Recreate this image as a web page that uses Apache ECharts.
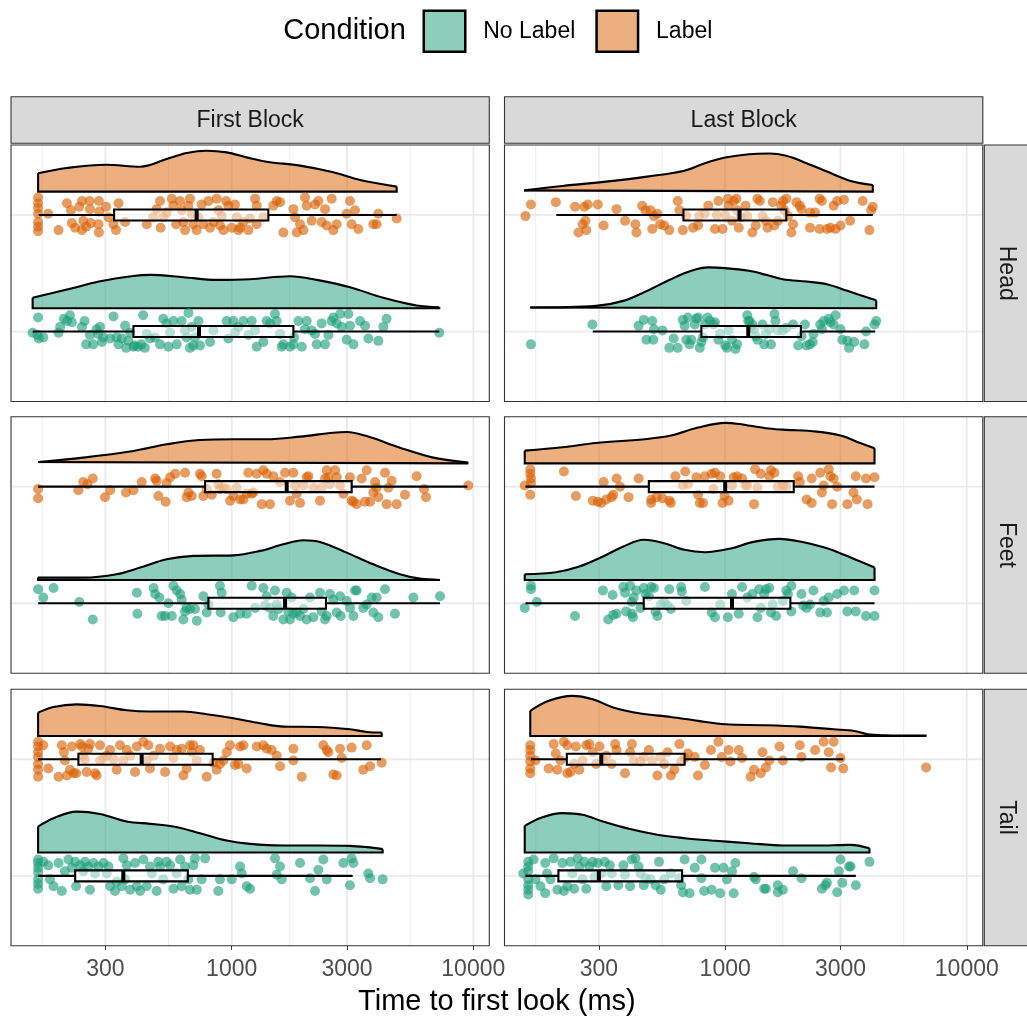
<!DOCTYPE html>
<html>
<head>
<meta charset="utf-8">
<script src="https://cdn.jsdelivr.net/npm/echarts@6/dist/echarts.min.js"></script>
<style>html,body{margin:0;padding:0;background:#fff}#chart{width:1027px;height:1023px}</style>
</head>
<body>
<div id="chart"></div>
<script>
// ---------------- DATA (times in ms; jitter / density heights in category units) ----------------
const blocks = ['First Block', 'Last Block'];
const regions = ['Head', 'Feet', 'Tail'];
const conditions = ['No Label', 'Label'];
const xTicks = [300, 1000, 3000, 10000];

// box stats: [lower whisker, Q1, median, Q3, upper whisker]
const fbHeadLabelBox = [159, 326, 716, 1418, 4818];
const fbHeadNoLabelBox = [150, 392, 732, 1800, 7232];
const lbHeadLabelBox = [200, 672, 1146, 1790, 4082];
const lbHeadNoLabelBox = [283, 797, 1246, 2057, 4176];
const fbFeetLabelBox = [158, 776, 1689, 3137, 9450];
const fbFeetNoLabelBox = [158, 801, 1663, 2457, 7281];
const lbFeetLabelBox = [149, 483, 1000, 1922, 4150];
const lbFeetNoLabelBox = [149, 460, 1067, 1861, 4150];
const fbTailLabelBox = [158, 232, 424, 834, 4148];
const fbTailNoLabelBox = [158, 225, 356, 658, 3166];
const lbTailLabelBox = [157, 221, 307, 679, 3082];
const lbTailNoLabelBox = [149, 204, 300, 663, 3472];

// density curves: [ms, scaled density height]
const fbHeadLabelDens = [[158,0.157],[208,0.203],[302,0.231],[418,0.214],[538,0.280],[651,0.331],[788,0.351],[953,0.337],[1154,0.294],[1396,0.257],[1918,0.223],[2634,0.166],[3398,0.100],[4818,0.043]];
const fbHeadNoLabelDens = [[150,0.089],[208,0.160],[285,0.231],[392,0.277],[459,0.286],[631,0.266],[867,0.243],[1191,0.249],[1743,0.274],[2247,0.243],[3088,0.180],[4242,0.089],[5829,0.023],[7232,0.009]];
const lbHeadLabelDens = [[147,0.011],[212,0.049],[344,0.092],[475,0.129],[678,0.180],[824,0.244],[1000,0.292],[1254,0.321],[1523,0.327],[1790,0.307],[2172,0.244],[2638,0.172],[3305,0.092],[4082,0.057]];
const lbHeadNoLabelDens = [[156,0.006],[292,0.02],[379,0.063],[475,0.149],[596,0.249],[724,0.321],[851,0.350],[1000,0.344],[1254,0.321],[1474,0.287],[1732,0.249],[2172,0.229],[2638,0.206],[3203,0.149],[3885,0.092],[4217,0.069]];
const fbFeetLabelDens = [[158,0.011],[243,0.049],[392,0.106],[538,0.163],[739,0.200],[1016,0.206],[1396,0.206],[1918,0.229],[2634,0.263],[2991,0.269],[3619,0.234],[4971,0.134],[6828,0.049],[9535,0.006]];
const fbFeetNoLabelDens = [[158,0.02],[243,0.02],[334,0.049],[418,0.106],[538,0.177],[694,0.206],[1016,0.211],[1310,0.249],[1636,0.306],[1980,0.34],[2320,0.326],[2991,0.234],[3857,0.134],[4971,0.049],[6017,0.011],[7281,0.0]];
const lbFeetLabelDens = [[148,0.109],[212,0.138],[292,0.175],[475,0.209],[596,0.238],[772,0.307],[1000,0.347],[1138,0.338],[1474,0.301],[1732,0.289],[2393,0.272],[3002,0.238],[3646,0.172],[4150,0.129]];
const lbFeetNoLabelDens = [[148,0.049],[199,0.066],[249,0.115],[312,0.201],[379,0.287],[460,0.344],[559,0.315],[679,0.258],[824,0.238],[1067,0.272],[1295,0.324],[1677,0.352],[2036,0.330],[2638,0.272],[3305,0.192],[4150,0.106]];
const fbTailLabelDens = [[158,0.2],[183,0.249],[228,0.271],[285,0.257],[368,0.22],[459,0.209],[631,0.209],[788,0.186],[1016,0.151],[1310,0.109],[1636,0.08],[2247,0.077],[3088,0.057],[3619,0.034],[4175,0.029]];
const fbTailNoLabelDens = [[158,0.223],[183,0.294],[228,0.351],[285,0.331],[368,0.266],[459,0.246],[574,0.223],[739,0.166],[954,0.103],[1191,0.074],[1636,0.06],[2247,0.06],[3088,0.057],[3619,0.046],[4215,0.029]];
const lbTailLabelDens = [[156,0.215],[186,0.301],[233,0.344],[283,0.315],[344,0.244],[446,0.192],[596,0.163],[772,0.129],[1000,0.10],[1474,0.092],[2036,0.080],[2812,0.057],[3418,0.043],[3885,0.014],[4566,0.006],[6806,0.003]];
const lbTailNoLabelDens = [[148,0.229],[174,0.301],[212,0.338],[257,0.324],[312,0.266],[404,0.201],[524,0.152],[679,0.123],[879,0.103],[1254,0.080],[1732,0.06],[2393,0.06],[3305,0.066],[3954,0.037]];

// jittered observations: [ms, vertical jitter]
const fbHeadLabelPts = [[158,0.15],[158,0.10],[158,0.06],[158,0.01],[158,-0.06],[158,-0.10],[158,-0.14],[174,0.01],[192,-0.13],[208,0.10],[216,0.04],[218,-0.07],[225,-0.11],[234,0.07],[240,0.12],[243,-0.05],[250,-0.10],[258,0.12],[259,0.05],[261,-0.07],[240,-0.13],[282,0.12],[283,0.03],[281,-0.08],[282,-0.15],[302,0.07],[309,-0.02],[324,-0.08],[332,-0.13],[340,0.10],[362,-0.06],[445,-0.08],[474,-0.02],[489,0.05],[505,0.12],[508,-0.11],[521,-0.02],[538,0.02],[565,0.14],[574,0.08],[589,-0.08],[611,0.12],[621,0.04],[631,-0.06],[641,-0.13],[662,0.08],[672,0.14],[683,0.01],[694,-0.08],[716,-0.13],[728,-0.02],[751,0.09],[763,-0.08],[801,0.12],[813,-0.11],[840,-0.06],[867,0.14],[881,0.04],[895,-0.09],[909,-0.01],[924,-0.13],[948,0.12],[969,0.08],[1000,-0.11],[1032,0.09],[1049,-0.02],[1066,-0.13],[1083,-0.11],[1118,-0.06],[1172,-0.13],[1191,-0.03],[1249,0.14],[1269,-0.08],[1269,0.08],[1352,-0.02],[1487,0.08],[1536,0.12],[1585,0.11],[1636,-0.15],[1800,0.05],[1829,-0.02],[1858,-0.15],[1918,-0.08],[1981,-0.13],[2011,0.15],[2043,0.08],[2143,-0.05],[2212,0.09],[2284,0.12],[2357,-0.06],[2434,0.05],[2473,-0.09],[2593,0.14],[2634,-0.13],[2720,-0.08],[2991,0.01],[3088,0.12],[3138,-0.08],[3238,0.04],[3343,-0.12],[3857,-0.08],[3981,-0.08],[4045,0.01],[4818,-0.03]];
const fbHeadNoLabelPts = [[150,-0.01],[158,0.12],[159,-0.06],[157,-0.03],[166,-0.05],[192,-0.01],[195,0.04],[202,0.11],[208,0.09],[214,0.14],[218,0.08],[240,0.04],[246,0.09],[250,-0.11],[259,-0.03],[267,-0.11],[276,0.02],[280,-0.02],[285,0.04],[290,-0.09],[294,-0.05],[314,-0.06],[324,0.13],[334,-0.05],[340,-0.11],[351,-0.06],[362,0.05],[366,-0.14],[373,-0.08],[380,-0.01],[392,-0.13],[397,-0.12],[410,-0.13],[423,-0.11],[430,0.14],[437,-0.14],[445,-0.02],[459,-0.06],[481,-0.05],[505,-0.11],[521,0.11],[538,0.07],[547,-0.13],[556,-0.01],[574,0.09],[592,-0.11],[621,0.09],[641,0.01],[651,-0.05],[662,0.16],[672,-0.14],[683,0.04],[694,-0.12],[705,-0.05],[728,0.09],[739,-0.12],[813,-0.09],[840,0.01],[953,0.09],[969,-0.06],[1016,0.09],[1032,-0.01],[1066,0.04],[1118,0.09],[1172,-0.03],[1210,0.09],[1249,0.01],[1269,-0.13],[1352,-0.09],[1396,0.09],[1441,0.07],[1510,0.15],[1536,0.09],[1585,-0.02],[1610,-0.13],[1636,-0.11],[1743,-0.13],[1800,-0.11],[1810,-0.05],[1888,0.09],[1950,-0.13],[2011,0.02],[2043,0.09],[2143,0.01],[2212,-0.02],[2247,-0.11],[2357,0.07],[2434,-0.11],[2513,-0.03],[2593,0.09],[2634,0.12],[2720,0.07],[2809,0.15],[2854,0.04],[2991,-0.07],[3040,0.15],[3088,0.05],[3189,-0.11],[3398,0.09],[3563,0.05],[3677,-0.06],[4045,-0.08],[4242,0.04],[4378,0.11],[7232,-0.01]];
const lbHeadLabelPts = [[149,-0.01],[157,0.09],[199,0.11],[239,0.07],[261,0.07],[270,0.09],[297,0.09],[257,-0.08],[264,-0.05],[247,-0.15],[266,-0.13],[314,-0.09],[355,0.05],[385,-0.05],[429,-0.15],[425,-0.08],[453,0.08],[468,0.04],[491,0.04],[507,-0.01],[524,0.01],[538,-0.08],[499,-0.12],[559,-0.09],[587,-0.13],[636,0.12],[646,0.04],[668,-0.13],[690,-0.01],[736,-0.11],[772,-0.09],[780,-0.01],[824,0.01],[851,0.08],[907,-0.12],[922,0],[937,0.12],[975,-0.12],[1000,0],[1026,0.14],[1033,0.08],[1067,-0.05],[1084,0.12],[1113,0.14],[1120,0.04],[1138,-0.11],[1157,-0.02],[1214,0.08],[1234,-0.01],[1295,-0.15],[1338,-0.09],[1359,0.14],[1391,0.12],[1427,-0.01],[1474,-0.05],[1497,-0.11],[1573,0.11],[1598,-0.09],[1651,-0.05],[1705,0.08],[1732,0.12],[1760,0.04],[1790,0.14],[1818,-0.01],[1879,-0.15],[1909,-0.08],[1972,0.11],[2036,0.08],[2069,0.05],[2244,0.02],[2244,-0.11],[2356,0.02],[2458,0.14],[2513,0.12],[2458,-0.12],[2638,-0.12],[2725,-0.11],[2812,0.08],[2861,-0.12],[2907,0.12],[3101,0.13],[3002,-0.09],[3287,-0.05],[3706,0.12],[3954,-0.13],[4018,0.04],[4082,0.07]];
const lbHeadNoLabelPts = [[157,-0.11],[282,0.06],[438,0.05],[460,0.10],[472,-0.07],[499,0.09],[504,-0.07],[507,0.02],[550,0.01],[587,-0.14],[612,-0.06],[636,-0.14],[668,0.10],[679,0.05],[690,-0.07],[701,0.12],[712,-0.11],[724,-0.07],[748,0.06],[760,0.11],[772,0.12],[785,-0.14],[797,-0.09],[810,-0.05],[824,0.06],[845,0.12],[865,0.09],[894,0.06],[907,0.08],[937,-0.07],[953,-0.02],[1000,-0.12],[1016,-0.14],[1033,0.01],[1067,-0.07],[1102,-0.15],[1120,-0.11],[1234,0.14],[1246,0.09],[1262,0.09],[1274,0.03],[1295,0.06],[1316,0.02],[1338,-0.04],[1359,-0.07],[1427,0.06],[1450,-0.11],[1474,-0.02],[1523,0.02],[1547,-0.11],[1599,0.15],[1614,0.09],[1651,0.01],[1732,0.01],[1790,0.03],[1909,0.06],[2004,-0.12],[2069,-0.04],[2138,0.06],[2172,-0.12],[2244,-0.11],[2303,-0.09],[2318,-0.02],[2474,0.06],[2513,0.02],[2555,0.09],[2682,0.11],[2725,0.08],[2812,0.06],[2861,0.14],[3002,0.02],[3052,-0.07],[3203,-0.08],[3255,-0.14],[3418,-0.09],[3766,-0.11],[3827,0],[4150,0.06],[4217,0.09]];
const fbFeetLabelPts = [[158,-0.02],[158,-0.10],[232,-0.03],[243,0.04],[253,0.02],[266,0.07],[299,-0.09],[314,-0.03],[365,-0.05],[392,-0.03],[424,0.04],[482,0.07],[489,0.05],[497,-0.08],[533,-0.13],[538,0.03],[556,0.08],[583,0.11],[641,0.12],[651,-0.09],[662,-0.05],[683,-0.08],[739,0.11],[751,0.09],[763,-0.08],[788,-0.02],[827,-0.07],[866,0.11],[880,0.02],[894,-0.02],[924,-0.01],[954,-0.02],[984,-0.12],[1016,-0.08],[1049,-0.01],[1083,-0.11],[1118,-0.11],[1154,-0.06],[1172,0.12],[1210,-0.06],[1229,-0.05],[1269,0.11],[1331,-0.15],[1352,0.14],[1396,0.11],[1441,-0.15],[1487,0.09],[1585,0.04],[1663,0.12],[1743,-0.12],[1800,0.12],[1829,0.01],[1858,-0.06],[1918,-0.14],[1981,0.01],[2043,0.08],[2076,0.09],[2177,-0.01],[2320,-0.12],[2357,-0.01],[2434,0.07],[2473,0.14],[2512,0.08],[2552,0.02],[2677,0.14],[2720,0.08],[2808,0.01],[2899,-0.06],[3088,0.08],[3137,-0.12],[3189,-0.13],[3290,-0.15],[3451,0.07],[3563,-0.13],[3619,0.14],[3737,-0.13],[3857,-0.05],[3920,0.04],[3981,-0.01],[4045,-0.09],[4311,0.12],[4378,-0.15],[4450,-0.01],[4593,0.05],[4818,-0.15],[5213,-0.07],[5826,0.09],[6250,-0.02],[6370,-0.09],[9535,0.01]];
const fbFeetNoLabelPts = [[158,0.12],[166,0.05],[183,0.13],[234,0.01],[266,-0.14],[405,0.09],[407,-0.09],[475,0.13],[482,0.08],[502,0.05],[513,-0.11],[530,-0.11],[547,0],[565,-0.11],[574,0.15],[592,0.11],[612,0.08],[621,0.03],[631,-0.14],[641,-0.07],[651,-0.04],[672,-0.05],[705,-0.05],[717,-0.15],[763,0.06],[788,-0.08],[801,-0.01],[894,0.15],[909,0.09],[900,-0.08],[1016,-0.12],[1083,-0.09],[1154,-0.09],[1210,0.15],[1249,-0.04],[1352,0.13],[1374,-0.02],[1396,0.06],[1441,-0.04],[1487,-0.11],[1511,0.11],[1536,-0.01],[1561,-0.05],[1636,-0.14],[1689,0.09],[1716,-0.07],[1743,-0.14],[1771,0.05],[1800,-0.09],[1858,-0.08],[1918,-0.11],[1981,-0.05],[2043,-0.14],[2110,0.05],[2177,-0.12],[2320,0.09],[2357,-0.07],[2434,-0.14],[2473,-0.11],[2552,0.08],[2634,0.03],[2720,-0.08],[2808,0.06],[2826,-0.11],[2991,0.02],[3088,-0.04],[3189,-0.11],[3238,0.11],[3290,0.11],[3505,-0.04],[3619,-0.01],[3796,0.05],[3857,-0.08],[3981,0.05],[4045,-0.12],[4311,0.12],[4740,-0.09],[5646,0.05],[7281,0.06]];
const lbFeetLabelPts = [[156,0.15],[156,0.11],[157,0.07],[157,0.03],[148,0.01],[156,-0.07],[215,0.13],[241,-0.08],[283,-0.12],[297,-0.13],[307,-0.14],[314,0.04],[322,-0.11],[339,-0.09],[344,-0.07],[355,0.07],[367,0],[398,-0.09],[438,0.07],[494,-0.11],[494,-0.14],[520,-0.09],[550,-0.10],[587,-0.12],[596,-0.14],[622,0.09],[668,0.01],[683,0.13],[701,0.02],[760,0.08],[772,-0.07],[785,-0.14],[810,-0.14],[824,0.09],[879,0.11],[893,-0.02],[907,0.12],[953,0.09],[975,-0.14],[994,-0.08],[1033,-0.12],[1067,0.01],[1084,0.08],[1120,0.09],[1175,0.07],[1214,0.01],[1234,0.01],[1316,-0.15],[1329,0.15],[1359,-0.01],[1404,0.11],[1523,0.09],[1547,0.14],[1599,0.12],[1651,0],[1732,0.01],[1790,0],[2004,0.09],[2036,0.04],[2172,-0.11],[2281,-0.14],[2281,0.07],[2474,0.12],[2513,-0.05],[2555,0.01],[2682,0.15],[2725,0.09],[2770,-0.15],[2812,0.07],[2907,0],[3203,-0.15],[3395,-0.05],[3472,0.09],[3506,-0.11],[3827,0.07],[3885,-0.15],[4150,0.08]];
const lbFeetNoLabelPts = [[148,-0.04],[157,0.15],[157,0.12],[166,0.01],[239,-0.11],[312,0.11],[328,-0.14],[342,0.07],[344,-0.10],[355,-0.09],[379,0.14],[385,0.09],[389,-0.07],[404,0.15],[411,0.01],[415,-0.12],[411,-0.09],[418,0.05],[429,0.11],[446,-0.04],[460,0.13],[468,0.08],[483,0.06],[494,0.14],[507,0.13],[515,-0.07],[524,-0.11],[541,-0.01],[559,0.01],[577,-0.02],[587,0.12],[596,-0.05],[657,0.14],[661,0.10],[690,0.02],[824,0.14],[879,-0.08],[907,-0.12],[953,-0.01],[1026,-0.12],[1067,0.08],[1138,-0.09],[1175,0.14],[1234,0.05],[1295,0.08],[1359,-0.12],[1382,0.12],[1404,-0.04],[1450,0.08],[1474,0.12],[1523,0.13],[1547,-0.08],[1573,-0.01],[1624,-0.11],[1732,0.02],[1790,0.11],[1818,0.08],[1879,0.15],[1879,-0.07],[2069,0.08],[2104,-0.02],[2172,-0.04],[2244,-0.01],[2318,0.11],[2474,-0.08],[2555,0.02],[2638,-0.08],[2682,0.05],[2907,0.08],[3101,0.11],[3203,-0.07],[3418,0.11],[3472,-0.07],[3827,-0.11],[4150,-0.11],[4150,0.11]];
const fbTailLabelPts = [[158,0.15],[158,0.11],[158,0.06],[158,0.02],[158,-0.04],[158,-0.09],[158,-0.15],[166,0.12],[174,-0.08],[192,-0.15],[198,0.12],[202,0.06],[204,-0.01],[208,-0.14],[214,-0.09],[218,0.11],[222,-0.12],[227,-0.12],[236,0.13],[240,0.11],[242,0.03],[247,0],[251,-0.11],[255,0.09],[259,0.13],[272,-0.12],[276,-0.14],[285,0.12],[285,-0.01],[295,0.01],[304,0.03],[314,0.08],[324,0],[334,-0.09],[345,0.12],[356,-0.01],[368,0.08],[380,0.03],[398,-0.11],[405,0.11],[431,0.15],[445,-0.01],[452,0.12],[459,-0.08],[475,0.03],[505,0.09],[530,-0.11],[556,0.11],[574,0.01],[592,0.08],[621,0.09],[631,-0.14],[651,-0.08],[672,0.12],[683,0.06],[694,0.12],[717,-0.01],[739,0.08],[788,-0.15],[840,-0.03],[866,-0.09],[894,-0.04],[924,-0.01],[954,0.06],[984,0.12],[1032,-0.05],[1066,-0.04],[1083,0.11],[1118,0.12],[1154,-0.08],[1269,0.11],[1352,0.12],[1396,0.09],[1464,0.08],[1536,0.03],[1585,-0.06],[1800,0.09],[1800,-0.01],[1949,-0.15],[2395,0.12],[2473,0.08],[2512,0.06],[2634,-0.13],[2720,-0.14],[2808,0.09],[2852,0.01],[3137,0.10],[3505,-0.09],[3619,0.12],[3737,-0.06],[4175,-0.03]];
const fbTailNoLabelPts = [[158,0.14],[158,0.11],[158,0.07],[158,0.03],[158,-0.03],[158,-0.07],[158,-0.11],[166,0.12],[174,0.09],[177,-0.03],[183,-0.09],[192,0.11],[198,-0.13],[204,0.04],[211,0.14],[218,0.07],[225,0.12],[227,-0.09],[236,0.09],[243,0.04],[247,0.12],[255,0.08],[259,-0.12],[268,0.11],[272,0.02],[281,0.08],[295,0.11],[304,0.02],[309,0.08],[314,-0.09],[329,-0.13],[334,-0.05],[351,-0.09],[356,0.15],[362,-0.03],[368,0.09],[380,-0.12],[398,0.11],[405,-0.09],[418,-0.13],[431,0.14],[445,-0.09],[459,0.08],[467,0.02],[489,-0.13],[497,0.12],[505,0.08],[521,-0.03],[538,0.12],[556,0.09],[574,-0.11],[592,0.02],[612,0.14],[621,-0.09],[641,0.08],[662,-0.03],[672,-0.12],[694,0.09],[705,0.15],[717,-0.12],[751,-0.03],[776,0.15],[880,-0.13],[894,-0.03],[1000,-0.03],[1083,0.08],[1100,0.02],[1154,-0.09],[1191,-0.11],[1511,0.15],[1536,0.01],[1585,0.08],[1610,-0.03],[1918,0.11],[2110,-0.02],[2212,-0.13],[2284,0.05],[2395,0.14],[2473,-0.03],[2899,0.11],[3088,-0.08],[3137,0.15],[3189,0.11],[3678,0.02],[3737,-0.02],[4215,-0.03]];
const lbTailLabelPts = [[156,0.12],[156,0.08],[156,0.03],[156,-0.02],[156,-0.08],[156,-0.12],[164,-0.01],[186,-0.08],[195,0.13],[199,0.05],[202,-0.09],[208,-0.01],[215,0.15],[222,0.12],[222,-0.12],[229,-0.11],[237,-0.04],[241,0.11],[249,-0.09],[257,-0.01],[266,0.12],[274,0.13],[283,0.06],[292,-0.04],[302,0.11],[312,-0.01],[322,0.03],[339,-0.04],[350,0.13],[355,0.08],[385,-0.12],[404,0.06],[411,0.13],[418,-0.01],[446,-0.02],[460,0.02],[483,0.08],[499,-0.01],[524,-0.14],[541,0.02],[559,-0.04],[577,0.06],[596,-0.14],[616,-0.09],[646,0.13],[657,-0.02],[679,0.01],[701,0.05],[748,0.02],[772,-0.14],[824,-0.05],[873,0.08],[937,0.15],[968,0.02],[1033,0.08],[1050,-0.02],[1138,0.08],[1175,0.01],[1274,-0.15],[1316,-0.09],[1404,-0.12],[1427,0.06],[1474,-0.07],[1523,-0.01],[1677,0.11],[1732,-0.01],[2036,0.12],[2069,0.02],[2356,0.08],[2555,0.15],[2682,0.06],[2743,-0.07],[2812,0.15],[3002,0.01],[3082,-0.08],[6784,-0.07]];
const lbTailNoLabelPts = [[146,0.02],[153,0.12],[153,0.08],[153,0.04],[153,-0.03],[153,-0.08],[153,-0.12],[153,-0.16],[161,0.14],[164,-0.03],[172,-0.09],[180,0.11],[180,-0.15],[183,0.02],[189,-0.03],[195,0.15],[202,-0.12],[212,0.11],[215,-0.13],[222,-0.09],[229,0.12],[233,0.02],[237,-0.11],[245,0.15],[249,0.08],[257,-0.03],[261,0.12],[266,-0.11],[274,0.08],[283,0.12],[288,-0.01],[297,0.11],[307,0.02],[317,0.12],[322,-0.09],[333,0.09],[339,0.02],[361,-0.08],[379,0.09],[385,0.01],[404,-0.09],[411,0.14],[425,0.15],[438,0.08],[446,0.02],[460,-0.08],[468,-0.02],[491,-0.03],[515,-0.08],[532,0.12],[541,-0.12],[559,-0.03],[596,0.02],[646,-0.02],[657,-0.08],[668,-0.14],[679,0.14],[712,-0.15],[748,0.07],[797,0.14],[797,-0.02],[818,-0.13],[879,-0.12],[907,0.07],[953,-0.15],[984,0.07],[1016,-0.03],[1067,0.04],[1084,-0.15],[1102,0.11],[1316,-0.01],[1338,-0.03],[1450,-0.11],[1474,-0.11],[1651,-0.08],[1651,-0.14],[1732,-0.12],[1909,0.04],[2069,-0.02],[2513,-0.11],[2596,-0.08],[2638,-0.06],[2907,-0.14],[2954,0.04],[3002,0.14],[3052,-0.06],[3255,0.08],[3305,0.08],[3472,-0.08],[3954,0.12]];

// ---------------- PANEL ASSEMBLY ----------------
const panels = [
  {col:0,row:0,'Label':{pts:fbHeadLabelPts,box:fbHeadLabelBox,dens:fbHeadLabelDens},'No Label':{pts:fbHeadNoLabelPts,box:fbHeadNoLabelBox,dens:fbHeadNoLabelDens}},
  {col:1,row:0,'Label':{pts:lbHeadLabelPts,box:lbHeadLabelBox,dens:lbHeadLabelDens},'No Label':{pts:lbHeadNoLabelPts,box:lbHeadNoLabelBox,dens:lbHeadNoLabelDens}},
  {col:0,row:1,'Label':{pts:fbFeetLabelPts,box:fbFeetLabelBox,dens:fbFeetLabelDens},'No Label':{pts:fbFeetNoLabelPts,box:fbFeetNoLabelBox,dens:fbFeetNoLabelDens}},
  {col:1,row:1,'Label':{pts:lbFeetLabelPts,box:lbFeetLabelBox,dens:lbFeetLabelDens},'No Label':{pts:lbFeetNoLabelPts,box:lbFeetNoLabelBox,dens:lbFeetNoLabelDens}},
  {col:0,row:2,'Label':{pts:fbTailLabelPts,box:fbTailLabelBox,dens:fbTailLabelDens},'No Label':{pts:fbTailNoLabelPts,box:fbTailNoLabelBox,dens:fbTailNoLabelDens}},
  {col:1,row:2,'Label':{pts:lbTailLabelPts,box:lbTailLabelBox,dens:lbTailLabelDens},'No Label':{pts:lbTailNoLabelPts,box:lbTailNoLabelBox,dens:lbTailNoLabelDens}}
];

const FONT = "'Liberation Sans', Arial, Helvetica, sans-serif";
const COL_LEFT = [11, 504.5], PANEL_W = 478.3;
const ROW_TOP = [145, 416.7, 689.3], PANEL_H = 256.5;
const LMIN = 2.0865, LMAX = 4.0662, YMIN = 0.4, YMAX = 2.6;
const COND_Y = {'No Label': 1, 'Label': 2};
const VIOLIN_OFFSET = 0.2, BOX_HALF = 0.047;
const FILL = {'No Label': 'rgba(27,158,119,0.5)', 'Label': 'rgba(217,95,2,0.5)'};
const PT = {'No Label': '#1B9E77', 'Label': '#D95F02'};
const LW = 2.1;

const majorLog = xTicks.map(Math.log10);
const minorLog = [];
minorLog.push(majorLog[0] - (majorLog[1] - majorLog[0]) / 2);
for (let k = 0; k < majorLog.length - 1; k++) minorLog.push((majorLog[k] + majorLog[k + 1]) / 2);

function renderGridLines(params, api) {
  const ch = [];
  const add = (a, b, w) => ch.push({type: 'line', shape: {x1: a[0], y1: a[1], x2: b[0], y2: b[1]}, style: {stroke: '#EBEBEB', lineWidth: w}});
  minorLog.filter(v => v > LMIN && v < LMAX).forEach(v => add(api.coord([v, YMIN]), api.coord([v, YMAX]), 0.9));
  majorLog.forEach(v => add(api.coord([v, YMIN]), api.coord([v, YMAX]), 1.8));
  [1, 2].forEach(v => add(api.coord([LMIN, v]), api.coord([LMAX, v]), 1.8));
  return {type: 'group', children: ch};
}

function renderBox(params, api) {
  const y = api.value(0);
  const lo = api.coord([api.value(1), y]);
  const q1 = api.coord([api.value(2), y + BOX_HALF]);
  const md = api.coord([api.value(3), y]);
  const q3 = api.coord([api.value(4), y - BOX_HALF]);
  const hi = api.coord([api.value(5), y]);
  const st = {stroke: '#000', lineWidth: LW};
  return {type: 'group', children: [
    {type: 'line', shape: {x1: lo[0], y1: lo[1], x2: q1[0], y2: lo[1]}, style: st},
    {type: 'line', shape: {x1: q3[0], y1: hi[1], x2: hi[0], y2: hi[1]}, style: st},
    {type: 'rect', shape: {x: q1[0], y: q1[1], width: q3[0] - q1[0], height: q3[1] - q1[1]}, style: {fill: 'rgba(255,255,255,0.5)', stroke: '#000', lineWidth: LW}},
    {type: 'line', shape: {x1: md[0], y1: q1[1], x2: md[0], y2: q3[1]}, style: {stroke: '#000', lineWidth: 4}}
  ]};
}

const grids = [], xAxes = [], yAxes = [], series = [];
panels.forEach((p, i) => {
  const bottom = p.row === 2;
  grids.push({left: COL_LEFT[p.col], top: ROW_TOP[p.row], width: PANEL_W, height: PANEL_H, show: false, containLabel: false, outerBoundsMode: 'none'});
  xAxes.push({
    gridIndex: i, type: 'value', min: LMIN, max: LMAX,
    splitLine: {show: false}, axisLine: {show: false},
    axisTick: {show: bottom, customValues: majorLog, length: 4, lineStyle: {color: '#333333', width: 1}},
    axisLabel: {show: bottom, customValues: majorLog, margin: 12, fontSize: 23, color: '#4D4D4D', fontFamily: FONT,
      formatter: v => String(Math.round(Math.pow(10, v)))}
  });
  yAxes.push({gridIndex: i, type: 'value', min: YMIN, max: YMAX, show: false});
  series.push({type: 'custom', xAxisIndex: i, yAxisIndex: i, silent: true, z: 1, data: [[3, 1]], renderItem: renderGridLines});
  conditions.forEach(cond => {
    const g = p[cond], y0 = COND_Y[cond], base = y0 + VIOLIN_OFFSET;
    const curve = g.dens.map(d => [Math.log10(d[0]), base + d[1]]);
    series.push({
      name: cond, type: 'line', xAxisIndex: i, yAxisIndex: i, data: curve, smooth: 0.35,
      symbol: 'none', silent: true, z: 2, color: FILL[cond],
      lineStyle: {color: '#000', width: LW},
      areaStyle: {origin: base, color: FILL[cond], opacity: 1}
    });
    const first = curve[0], last = curve[curve.length - 1];
    series.push({
      type: 'line', xAxisIndex: i, yAxisIndex: i, symbol: 'none', silent: true, z: 2,
      data: [first, [first[0], base], [last[0], base], last],
      lineStyle: {color: '#000', width: LW, join: 'miter'}
    });
    series.push({
      type: 'scatter', xAxisIndex: i, yAxisIndex: i, silent: true, z: 3, symbolSize: 10,
      itemStyle: {color: PT[cond], opacity: 0.62},
      data: g.pts.map(d => [Math.log10(d[0]), y0 + d[1]])
    });
    series.push({
      type: 'custom', xAxisIndex: i, yAxisIndex: i, silent: true, z: 4,
      encode: {x: 1, y: 0},
      data: [[y0].concat(g.box.map(Math.log10))], renderItem: renderBox
    });
  });
});

const graphics = [];
blocks.forEach((b, c) => {
  graphics.push({type: 'rect', silent: true, z: 5, shape: {x: COL_LEFT[c], y: 96.7, width: PANEL_W, height: 46.6},
    style: {fill: '#D9D9D9', stroke: '#333333', lineWidth: 1.1}});
  graphics.push({type: 'text', silent: true, z: 6, x: COL_LEFT[c] + PANEL_W / 2, y: 120.5,
    style: {text: b, fontSize: 23, fontFamily: FONT, fill: '#1A1A1A', textAlign: 'center', textVerticalAlign: 'middle', align: 'center', verticalAlign: 'middle'}});
});
regions.forEach((r, k) => {
  graphics.push({type: 'rect', silent: true, z: 5, shape: {x: 984.3, y: ROW_TOP[k], width: 50, height: PANEL_H},
    style: {fill: '#D9D9D9', stroke: '#333333', lineWidth: 1.1}});
  graphics.push({type: 'text', silent: true, z: 6, x: 1006.5, y: ROW_TOP[k] + PANEL_H / 2, rotation: -Math.PI / 2,
    style: {text: r, fontSize: 23, fontFamily: FONT, fill: '#1A1A1A', textAlign: 'center', textVerticalAlign: 'middle', align: 'center', verticalAlign: 'middle'}});
});
panels.forEach(p => {
  graphics.push({type: 'rect', silent: true, z: 10, shape: {x: COL_LEFT[p.col], y: ROW_TOP[p.row], width: PANEL_W, height: PANEL_H},
    style: {fill: 'rgba(0,0,0,0)', stroke: '#333333', lineWidth: 1.1}});
});
graphics.push({type: 'text', silent: true, z: 6, x: 283.3, y: 31,
  style: {text: 'Condition', fontSize: 29, fontFamily: FONT, fill: '#000', textAlign: 'left', textVerticalAlign: 'middle', align: 'left', verticalAlign: 'middle'}});
graphics.push({type: 'text', silent: true, z: 6, x: (COL_LEFT[0] + COL_LEFT[1] + PANEL_W) / 2, y: 1002,
  style: {text: 'Time to first look (ms)', fontSize: 29, fontFamily: FONT, fill: '#000', textAlign: 'center', textVerticalAlign: 'middle', align: 'center', verticalAlign: 'middle'}});

const chart = echarts.init(document.getElementById('chart'), null, {renderer: 'canvas'});
chart.setOption({
  animation: false,
  backgroundColor: '#ffffff',
  legend: {
    left: 422.5, top: 9.5, padding: 0, itemWidth: 41.5, itemHeight: 41, itemGap: 20, selectedMode: false,
    textStyle: {fontSize: 23, color: '#000', fontFamily: FONT, padding: [0, 0, 0, 13]},
    data: conditions.map(c => ({name: c, icon: 'rect', itemStyle: {color: FILL[c], borderColor: '#000', borderWidth: 2.5, opacity: 1}}))
  },
  grid: grids, xAxis: xAxes, yAxis: yAxes, series: series, graphic: {elements: graphics}
});
</script>
</body>
</html>
